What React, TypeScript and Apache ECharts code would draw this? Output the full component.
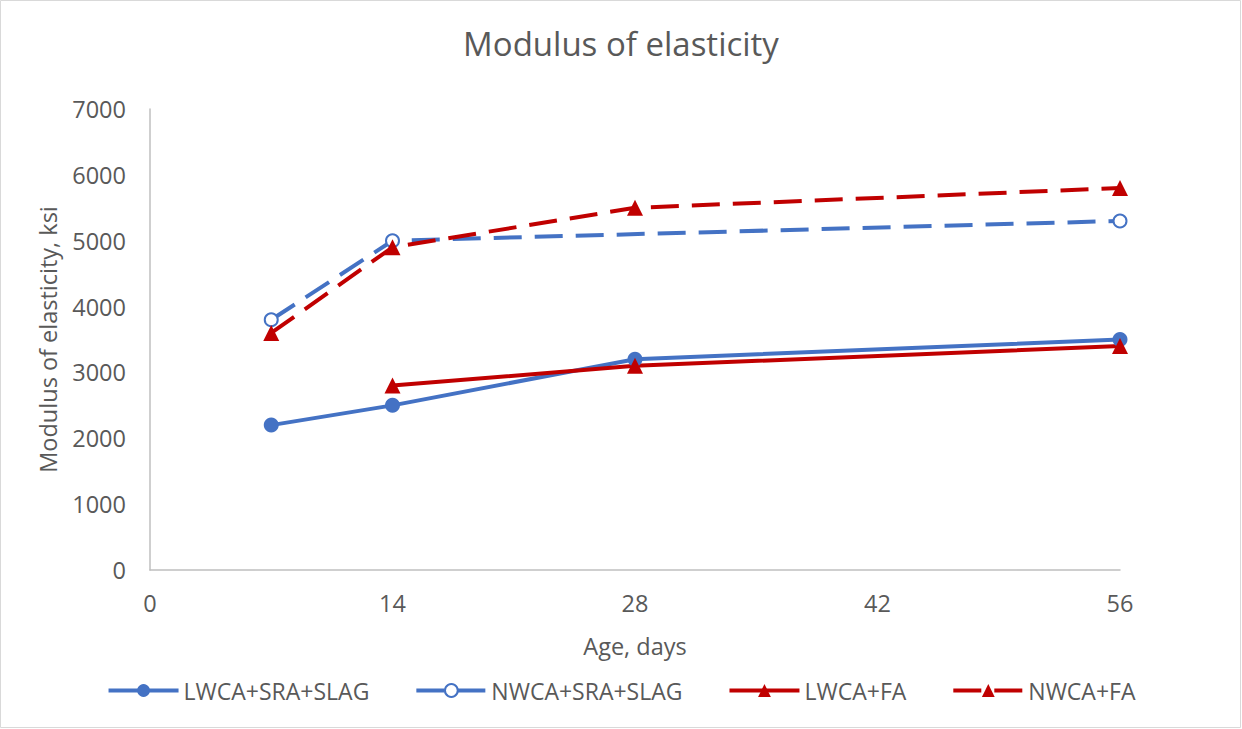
import React, { useEffect, useRef } from "react";
import * as echarts from "echarts";

const seriesNames = ["LWCA+SRA+SLAG", "NWCA+SRA+SLAG", "LWCA+FA", "NWCA+FA"];
const lwcaSlag: [number, number][] = [[7, 2200], [14, 2500], [28, 3200], [56, 3500]];
const nwcaSlag: [number, number][] = [[7, 3800], [14, 5000], [56, 5300]];
const lwcaFa: [number, number][] = [[14, 2800], [28, 3100], [56, 3400]];
const nwcaFa: [number, number][] = [[7, 3600], [14, 4900], [28, 5500], [56, 5800]];

const BLUE = "#4472C4";
const RED = "#C00000";
const TXT = "#595959";
const FONT = "'Open Sans', Lato, sans-serif";

export default function App() {
  const ref = useRef<HTMLDivElement>(null);
  useEffect(() => {
    const chart = echarts.init(ref.current!, null, { renderer: "svg" });
    const dash = [28, 13];
    chart.setOption({
      animation: false,
      backgroundColor: "#fff",
      textStyle: { fontFamily: FONT },
      title: {
        text: "Modulus of elasticity",
        left: "center",
        top: 22,
        textStyle: { fontSize: 33, fontWeight: "normal", color: TXT, fontFamily: FONT },
      },
      graphic: [
        {
          type: "rect",
          shape: { x: 0.5, y: 0.5, width: 1240, height: 727 },
          style: { fill: "none", stroke: "#d9d9d9", lineWidth: 1 },
          silent: true,
        },
      ],
      legend: {
        bottom: 22,
        left: "center",
        itemWidth: 70,
        itemHeight: 16,
        itemGap: 45,
        lineStyle: { width: 4 },
        textStyle: { fontSize: 23, color: TXT, fontFamily: FONT },
        data: seriesNames,
      },
      grid: { left: 150, right: 122, top: 109, bottom: 159 },
      xAxis: {
        type: "value",
        min: 0,
        max: 56,
        interval: 14,
        name: "Age, days",
        nameLocation: "middle",
        nameGap: 64,
        nameTextStyle: { fontSize: 23.5, color: TXT, fontFamily: FONT },
        axisLine: { show: true, lineStyle: { color: "#bfbfbf", width: 1.5 } },
        axisTick: { show: false },
        splitLine: { show: false },
        axisLabel: { fontSize: 23.5, color: TXT, margin: 21, fontFamily: FONT },
      },
      yAxis: {
        type: "value",
        min: 0,
        max: 7000,
        interval: 1000,
        name: "Modulus of elasticity, ksi",
        nameLocation: "middle",
        nameGap: 90,
        nameTextStyle: { fontSize: 23.5, color: TXT, fontFamily: FONT },
        axisLine: { show: true, lineStyle: { color: "#bfbfbf", width: 1.5 } },
        axisTick: { show: false },
        splitLine: { show: false },
        axisLabel: {
          fontSize: 23.5,
          color: TXT,
          margin: 24,
          fontFamily: FONT,
          formatter: (v: number) => String(v),
        },
      },
      series: [
        {
          name: seriesNames[0],
          type: "line",
          data: lwcaSlag,
          symbol: "circle",
          symbolSize: 15,
          itemStyle: { color: BLUE },
          lineStyle: { color: BLUE, width: 4 },
        },
        {
          name: seriesNames[1],
          type: "line",
          data: nwcaSlag,
          symbol: "emptyCircle",
          symbolSize: 13,
          itemStyle: { color: BLUE, borderWidth: 2, borderColor: BLUE },
          lineStyle: { color: BLUE, width: 4, type: dash },
        },
        {
          name: seriesNames[2],
          type: "line",
          data: lwcaFa,
          symbol: "triangle",
          symbolSize: 16,
          itemStyle: { color: RED },
          lineStyle: { color: RED, width: 4 },
        },
        {
          name: seriesNames[3],
          type: "line",
          data: nwcaFa,
          symbol: "triangle",
          symbolSize: 16,
          itemStyle: { color: RED },
          lineStyle: { color: RED, width: 4, type: dash },
        },
      ],
    });
    return () => chart.dispose();
  }, []);
  return (
    <div
      ref={ref}
      style={{ position: "fixed", left: 0, top: 0, width: 1242, height: 729 }}
    />
  );
}
